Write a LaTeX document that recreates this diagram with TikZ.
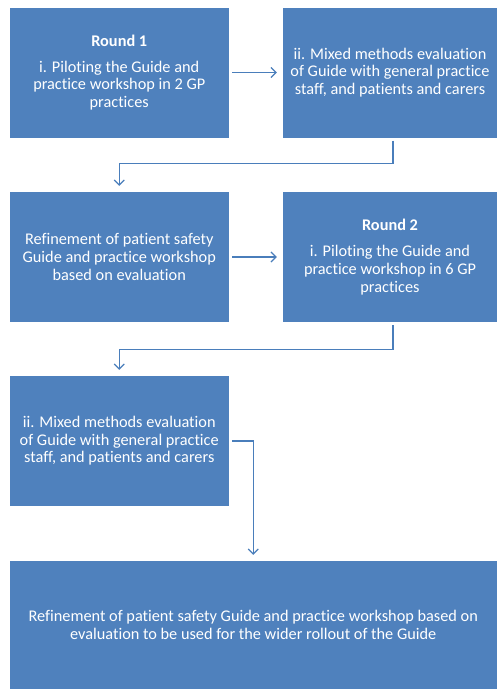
\documentclass[tikz,border=0pt]{standalone}
\usepackage{fontspec}
\setmainfont[Ligatures=NoCommon]{Carlito}
\usetikzlibrary{arrows.meta, positioning, calc}
\definecolor{boxblue}{HTML}{4F81BD}
\definecolor{lineblue}{HTML}{4A7EBB}

\begin{document}
\begin{tikzpicture}[x=1pt, y=-1pt,
  stage/.style={fill=boxblue, draw=none, text=white, align=center,
    inner sep=0pt, minimum height=130pt,
    font=\fontsize{16.3}{17.6}\selectfont},
  narrow/.style={stage, minimum width=219.5pt},
  wide/.style={stage, minimum width=214pt},
  link/.style={draw=lineblue, line width=1.2pt,
    -{Straight Barb[length=5pt,width=10pt]},
    shorten <=3pt, shorten >=6pt}]
\useasboundingbox (0,0) rectangle (498,689);

% first round
\node[narrow] (R1) at (119.25,72.5) {\textbf{Round 1}\\[8.5pt]
  i. Piloting the Guide and\\ practice workshop in 2 GP\\ practices};
\node[wide] (M1) at (390,72.5) {ii. Mixed methods evaluation\\
  of Guide with general practice\\ staff, and patients and carers};
\draw[link] (R1) -- (M1);

% refinement and second round
\node[narrow] (F1) at (119.25,257) {Refinement of patient safety\\
  Guide and practice workshop\\ based on evaluation};
\node[wide] (R2) at (390,257) {\textbf{Round 2}\\[8.5pt]
  i. Piloting the Guide and\\ practice workshop in 6 GP\\ practices};
\draw[link] ([xshift=3pt]M1.south) -- ++(0,26) -| (F1.north);
\draw[link] (F1) -- (R2);

\node[narrow] (M2) at (119.25,441) {ii. Mixed methods evaluation\\
  of Guide with general practice\\ staff, and patients and carers};
\draw[link] ([xshift=3pt]R2.south) -- ++(0,27) -| (M2.north);

% final refinement
\node[stage, minimum width=487.5pt, minimum height=128pt] (F2) at (253.25,625)
  {Refinement of patient safety Guide and practice workshop based on\\
  evaluation to be used for the wider rollout of the Guide};
\draw[link] (M2.east) -| (F2.north);

%\draw[step=10pt,color=gray] (0,0) grid (498,689);
\end{tikzpicture}
\end{document}
